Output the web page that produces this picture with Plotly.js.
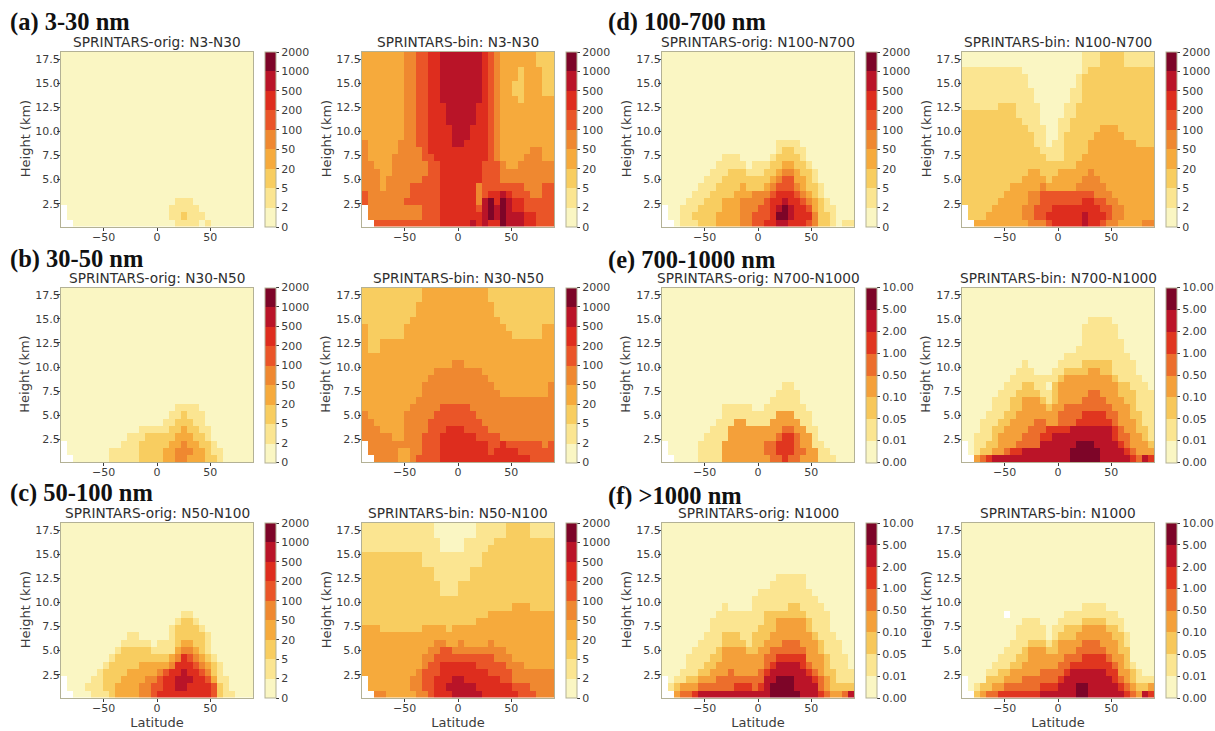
<!DOCTYPE html>
<html>
<head>
<meta charset="utf-8">
<script src="https://cdn.plot.ly/plotly-3.0.1.min.js"></script>
<style>html,body{margin:0;padding:0;background:#fff}#chart{width:1215px;height:731px}</style>
</head>
<body>
<div id="chart"></div>
<script>
// Contour class of every grid cell.
// Rows run top to bottom; the rows not listed above the first one repeat it. "." = no data (below ground).
const groupTitles = ["(a) 3-30 nm","(b) 30-50 nm","(c) 50-100 nm","(d) 100-700 nm","(e) 700-1000 nm","(f) >1000 nm"];
const numberTicks = ["0","2","5","20","50","100","200","500","1000","2000"];
const massTicks = ["0.00","0.01","0.05","0.10","0.50","1.00","2.00","5.00","10.00"];
const numberColors = ["#faf6c3","#fbe591","#f8cd60","#f6aa3c","#ef8830","#ea5528","#de2d1e","#b91428","#7d0528"];
const massColors = ["#faf6c3","#fbe591","#f7c75a","#f4a03a","#ec6e2c","#e0361f","#bb1428","#7d0528"];
const yTicks = [2.5,5,7.5,10,12.5,15,17.5];
const xTicks = [-50,0,50];

const aOrig = [
"00000000 00000000 00000000 00000000",
"00000000 00000000 00011100 00000000",
".0000000 00000000 00111110 00000000",
".0000000 00000000 00112111 00000000",
"..000000 00000000 00011110 10000000"];
const aBin = [
"33333334 45566777 77776543 33333222",
"33333334 45566777 77776543 33333222",
"33333334 45566777 77776543 33233322",
"33333334 45566777 77776543 33233322",
"33333334 45566777 77776543 32233322",
"33333334 45566777 77776543 32233322",
"33333334 45566777 77776543 33233333",
"33333334 45566677 77766543 33333333",
"33333334 45566677 77766543 33333333",
"33333334 45566677 77766543 33333333",
"33333334 45566667 77666543 33333333",
"33333334 45566667 77666543 33333333",
"43333344 45566667 76666543 33333333",
"43333344 44566666 66666543 33334433",
"43333444 44556666 66666543 33344433",
"44333444 44455666 66665554 33444444",
"44433444 44455666 66665554 44444444",
"44434444 44555666 66665554 44444444",
"44434444 55555666 66645555 55544455",
"54444444 55555666 66645667 65554455",
"54444445 55555666 66647868 76655555",
".4444444 44555666 66657878 76655555",
".4444444 44555666 66667878 77766555",
"..555555 55555666 66767668 77766555"];
const bOrig = [
"00000000 00000000 00000000 00000000",
"00000000 00000000 00011110 00000000",
"00000000 00000000 00112111 00000000",
"00000000 00000000 01122211 00000000",
"00000000 00000111 11223221 10000000",
"00000000 00011122 22233322 10000000",
".0000000 00111222 22334332 21000000",
".0000000 11111222 23344433 21100000",
"..000000 11111222 23344333 22100000"];
const bBin = [
"22222222 22333333 33333222 22222222",
"22222222 22333333 33333222 22222222",
"22222222 23333333 33333322 22222222",
"22222222 23333333 33333322 22222222",
"22222222 33333333 33333332 22222222",
"32222223 33333333 33333333 22222233",
"32222223 33333333 33333333 32222233",
"32233333 33333333 33333333 33333333",
"32233333 33333333 33333333 33333333",
"33333333 33333333 33333333 33333333",
"33333333 33333334 43333333 33333333",
"33333333 33334444 44443333 33333333",
"33333333 33344444 44444333 33333333",
"33333333 33444444 44444433 33333334",
"33333333 33444444 44444443 33333334",
"33333333 34444444 44444444 44444444",
"33333333 44444555 55444444 44444444",
"43333334 44445555 55544444 44444444",
"44333334 44455555 55554444 44444444",
"44433334 44455566 65555444 44444444",
"44444334 44555666 66655554 44444444",
".4444444 44555666 66666556 55555545",
".4444433 44555666 66666566 66555555",
"..444433 45555666 66666666 66665555"];
const cOrig = [
"00000000 00000000 00000000 00000000",
"00000000 00000000 00001100 00000000",
"00000000 00000000 00012210 00000000",
"00000000 00000000 00122221 00000000",
"00000000 00011000 00122222 10000000",
"00000000 00111110 11123322 10000000",
"00000000 01222221 11134432 10000000",
"00000000 12222222 22346543 21000000",
"00000001 22222333 33466654 32100000",
"00000012 22233333 45667665 42100000",
".0000112 22333344 56677766 53110000",
".0001112 23333445 56677666 65210000",
"..000111 23333445 66666666 65211000"];
const cBin = [
"11111111 11110000 00011111 22221111",
"11111111 11110000 00011111 22221111",
"11111111 11111000 01111122 22222222",
"11111111 11111000 01111222 22222222",
"22222222 22111111 11112222 22222222",
"22222222 22111111 11112222 22222222",
"22222222 22221111 11222222 22222222",
"22222222 22221111 11222222 22222222",
"22222222 22222111 22222222 22222222",
"22222222 22222111 22222222 22222222",
"22222222 22222222 22222222 22222222",
"22222222 22222222 22222222 23332222",
"22222222 22222222 22222333 33333333",
"22222222 22222222 22233333 33333333",
"33322222 22333323 33333333 33333333",
"33333333 33333333 33333333 33333333",
"33333333 33334433 43333433 33333333",
"33333333 33344554 44444444 33333333",
"33333333 33445555 55555544 43333333",
"33333333 33455666 66655555 44433333",
"33333333 34555666 66666555 54444444",
".3333333 44556667 76666665 54444444",
".3333333 44556677 77766666 65554444",
"..443333 34456667 77776666 66555444"];
const dOrig = [
"00000000 00000000 00000000 00000000",
"00000000 00000000 00011110 00000000",
"00000000 00000000 00012211 00000000",
"00000000 00111000 00122221 00000000",
"00000000 01111101 11223322 10000000",
"00000000 11122211 12234432 21000000",
"00000001 11222222 22345533 21000000",
"00000011 12222322 23455543 22100000",
"00000111 22223334 44566654 32100000",
"00001112 22333444 45667665 43210000",
".0011122 22333444 55678766 53211000",
".0011222 23333445 55688766 64221000",
"..011122 23333445 56677666 54221011"];
const dBin = [
"00000000 00000000 00001112 22211111",
"00000000 00000000 00001112 22211111",
"11111111 11000000 00001222 22222222",
"11111111 11100000 00012222 22222222",
"11111111 11100000 00012222 22222222",
"11111111 11110000 00112222 22222222",
"11111111 11110000 00112222 22222222",
"11111122 21111000 01122222 22222222",
"22222222 21111000 01122222 22222222",
"22222222 22111000 11222222 22222222",
"22222222 22211100 11222223 33222222",
"22222222 22221100 12222233 33322222",
"22222222 22221101 12222333 33333222",
"22222222 22222111 12222333 33333333",
"22222222 22222211 12223333 33333333",
"22222222 22222222 22233333 33333333",
"22222222 22233222 33333433 33333333",
"22222222 22333323 33334443 33333333",
"22222222 33333433 33344444 33333333",
"22222223 33344555 55555544 43333333",
"22222233 33344555 55556655 44333333",
".2222333 33445556 66666665 54433333",
".2223333 33445566 66667666 54433333",
"..333333 33344456 66667665 44333344"];
const eOrig = [
"00000000 00000000 00000000 00000000",
"00000000 00000000 00001100 00000000",
"00000000 00000000 00011110 00000000",
"00000000 00000000 00111110 00000000",
"00000000 00111110 01111111 00000000",
"00000000 00111111 11133311 10000000",
"00000000 01113311 11333331 10000000",
"00000000 11133333 33334433 11000000",
"00000001 11133333 33345543 31000000",
".0000011 11333333 34455543 31100000",
".0000011 11333333 34455544 33110000",
"..000011 11333333 33445443 33111000"];
const eBin = [
"00000000 00000000 00000000 00000000",
"00000000 00000000 00000111 10000000",
"00000000 00000000 00001111 11000000",
"00000000 00000000 00001111 11000000",
"00000000 00000000 00001111 11100000",
"00000000 00000000 00011111 11100000",
"00000000 00000000 01111111 11110000",
"00000000 00100000 11112222 21111000",
"00000000 01110001 12222332 21111000",
"00000000 11111111 23333333 32111100",
"00000001 11221102 33333333 33221110",
"00000011 12222112 33333443 33222111",
"00000111 22333212 33334444 33322111",
"00000111 22333323 34444444 43332111",
"00001112 23333333 44445555 44332211",
"00011122 33334433 44455555 54333211",
"00011223 33344455 55666666 65433221",
"00111233 33444556 66666666 65443321",
".0112233 34444666 66677766 66543332",
".0122334 55666666 66777776 66654333",
"..345666 66666666 66777776 66665465"];
const fOrig = [
"00000000 00000000 00000000 00000000",
"00000000 00000000 00011111 00000000",
"00000000 00000000 00111111 00000000",
"00000000 00000000 11111111 10000000",
"00000000 00000001 11111111 11000000",
"00000000 00100001 11111221 11100000",
"00000000 01111111 12222222 11110000",
"00000000 11111111 12233333 21110000",
"00000000 11111111 22233333 21110000",
"00000001 11222112 22333333 32111000",
"00000011 11222212 23334443 33211100",
"00000111 12333322 33444444 33211100",
"00001111 22333333 34455555 33321110",
"00001112 23333333 34566665 43321110",
"00011122 33343333 45666666 54322111",
".0112233 34444444 46677766 65432111",
".1233344 44445554 56777766 66432222",
"..344566 66666666 66777776 66543346"];
const fBin = [
"00000000 00000000 00000000 00000000",
"00000000 00000000 00001111 00000000",
"0000000. 00000000 01111111 11000000",
"00000000 00111000 11112222 11100000",
"00000000 01111101 12223333 22100000",
"00000000 01111101 22233333 32210000",
"00000000 11122212 33334443 33210000",
"00000001 11233322 33344444 33220000",
"00000011 12233333 34445555 43320000",
"00000111 22333333 44555555 54321000",
"00001122 33333444 45666666 55332100",
".0002223 33444444 56666666 65432111",
".0122334 44444555 66677666 66543223",
"..234455 55555666 66677666 66654365"];

const nCols = 32, nRows = 24, latMin = -90, latMax = 90, hMin = 0.13, hMax = 18.26;
const lat = [], height = [];
for (let i = 0; i < nCols; i++) lat.push(latMin + (i + 0.5) * (latMax - latMin) / nCols);
for (let j = 0; j < nRows; j++) height.push(hMin + (j + 0.5) * (hMax - hMin) / nRows);

function toGrid(rows) {
  const clean = rows.map(r => r.replace(/ /g, ''));
  while (clean.length < nRows) clean.unshift(clean[0]);
  return clean.slice().reverse().map(r => r.split('').map(ch => ch === '.' ? null : Number(ch) + 0.5));
}
function steps(colors) {
  const out = [], n = colors.length;
  colors.forEach((c, i) => { out.push([i / n, c]); out.push([(i + 1) / n, c]); });
  return out;
}

const W = 1215, H = 731, INK = '#3c3c3c', EDGE = '#b3b195';
const colLeft = [61, 362, 662, 962], panelW = 192, panelH = 174.5;
const rowTop = [52, 287.5, 523];
const panels = [
  {d: aOrig, t: "SPRINTARS-orig: N3-N30", c: 0, r: 0, m: 0},
  {d: aBin,  t: "SPRINTARS-bin: N3-N30", c: 1, r: 0, m: 0},
  {d: bOrig, t: "SPRINTARS-orig: N30-N50", c: 0, r: 1, m: 0},
  {d: bBin,  t: "SPRINTARS-bin: N30-N50", c: 1, r: 1, m: 0},
  {d: cOrig, t: "SPRINTARS-orig: N50-N100", c: 0, r: 2, m: 0},
  {d: cBin,  t: "SPRINTARS-bin: N50-N100", c: 1, r: 2, m: 0},
  {d: dOrig, t: "SPRINTARS-orig: N100-N700", c: 2, r: 0, m: 0},
  {d: dBin,  t: "SPRINTARS-bin: N100-N700", c: 3, r: 0, m: 0},
  {d: eOrig, t: "SPRINTARS-orig: N700-N1000", c: 2, r: 1, m: 1},
  {d: eBin,  t: "SPRINTARS-bin: N700-N1000", c: 3, r: 1, m: 1},
  {d: fOrig, t: "SPRINTARS-orig: N1000", c: 2, r: 2, m: 1},
  {d: fBin,  t: "SPRINTARS-bin: N1000", c: 3, r: 2, m: 1}
];

const axisFont = {family: 'DejaVu Sans', size: 11, color: INK};
const labelFont = {family: 'DejaVu Sans', size: 13, color: INK};
const traces = [];
const layout = {
  width: W, height: H, margin: {l: 0, r: 0, t: 0, b: 0},
  paper_bgcolor: '#fff', plot_bgcolor: '#fff', showlegend: false, annotations: []
};

panels.forEach((p, i) => {
  const id = i + 1, left = colLeft[p.c], top = rowTop[p.r];
  const ticks = p.m ? massTicks : numberTicks, colors = p.m ? massColors : numberColors;
  traces.push({
    type: 'heatmap', x: lat, y: height, z: toGrid(p.d), xaxis: 'x' + id, yaxis: 'y' + id,
    zmin: 0, zmax: colors.length, colorscale: steps(colors), zsmooth: false, hoverongaps: false,
    colorbar: {
      x: (left + panelW + 12) / W, xanchor: 'left', xpad: 0, y: 1 - top / H, yanchor: 'top', ypad: 0,
      lenmode: 'pixels', len: panelH, thicknessmode: 'pixels', thickness: 11,
      tickmode: 'array', tickvals: ticks.map((_, k) => k), ticktext: ticks,
      ticks: 'outside', ticklen: 3, tickcolor: INK, tickfont: axisFont,
      outlinecolor: EDGE, outlinewidth: 1, borderwidth: 0
    }
  });
  const common = {showgrid: false, zeroline: false, showline: true, mirror: true, linecolor: EDGE, linewidth: 1,
    ticks: 'outside', ticklen: 3, tickcolor: INK, tickfont: axisFont};
  layout['xaxis' + id] = Object.assign({}, common, {
    domain: [left / W, (left + panelW) / W], anchor: 'y' + id, range: [latMin, latMax],
    tickmode: 'array', tickvals: xTicks, ticktext: xTicks.map(v => v < 0 ? '\u2212' + (-v) : String(v)),
    ticklabelstandoff: -3,
    title: p.r === 2 ? {text: 'Latitude', font: labelFont, standoff: 0} : undefined
  });
  layout['yaxis' + id] = Object.assign({}, common, {
    domain: [1 - (top + panelH) / H, 1 - top / H], anchor: 'x' + id, range: [hMin, hMax],
    tickmode: 'array', tickvals: yTicks, ticktext: yTicks.map(v => v.toFixed(1)),
    ticklabelstandoff: -5
  });
  layout.annotations.push({
    xref: 'paper', yref: 'paper', x: (left - 36) / W, y: 1 - (top + panelH / 2) / H, xanchor: 'center', yanchor: 'middle',
    textangle: -90, showarrow: false, text: 'Height (km)', font: labelFont
  });
  layout.annotations.push({
    xref: 'paper', yref: 'paper', x: (left + panelW / 2) / W, y: 1 - top / H, xanchor: 'center', yanchor: 'bottom',
    showarrow: false, text: p.t, font: {family: 'DejaVu Sans', size: 13.7, color: '#2e2e2e'}
  });
});

const groupPos = [[8, 22], [8, 259], [8, 493], [606, 22], [606, 260], [606, 496]];
groupTitles.forEach((t, i) => layout.annotations.push({
  xref: 'paper', yref: 'paper', x: groupPos[i][0] / W, y: 1 - groupPos[i][1] / H, xanchor: 'left', yanchor: 'middle',
  showarrow: false, text: '<b>' + t.replace('>', '&gt;') + '</b>',
  font: {family: 'Liberation Serif', size: 24.5, color: '#111'}
}));

Plotly.newPlot('chart', traces, layout, {staticPlot: true, displayModeBar: false});
</script>
</body>
</html>
